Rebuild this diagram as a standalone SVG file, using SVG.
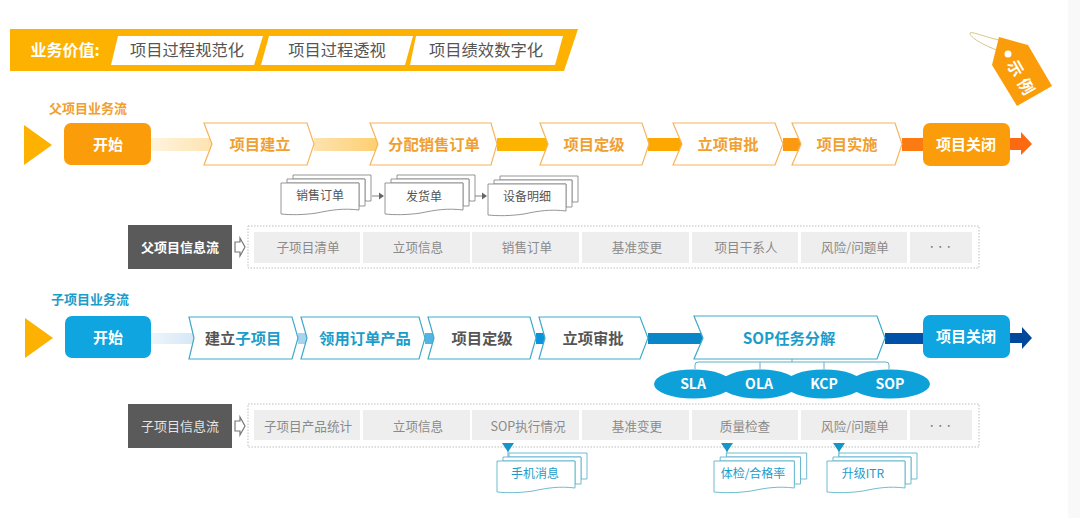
<svg xmlns="http://www.w3.org/2000/svg" width="1080" height="518" viewBox="0 0 1080 518">
<style>
text{font-family:"Noto Sans CJK SC","Noto Sans",sans-serif;text-anchor:middle;dominant-baseline:central}
.val{font-size:16.3px;fill:#555}
.ttl{font-size:16px;font-weight:700;fill:#fff}
.lane{font-size:13px;font-weight:700}
.step{font-size:15.3px;font-weight:700}
.or{fill:#f0a030}.bl{fill:#1c9cc8}.dk{fill:#555}
.wh{font-size:15px;font-weight:700;fill:#fff}
.chevO{fill:#fff;stroke:#f6b45a;stroke-width:1.2}
.chevB{fill:#fff;stroke:#3fa9c9;stroke-width:1.2}
.startO{fill:#fb9d0a}.startB{fill:#0ea5e0}
.mark{fill:#fdb100}
.sheetG{fill:#fff;stroke:#8a8a8a;stroke-width:.9}
.sheetB{fill:#fff;stroke:#5fb4cc;stroke-width:.9}
.docT{font-size:12px;fill:#555}
.docU{font-size:12px;fill:#1c9cc8}
.band{fill:#5a5a5a}
.bandT{font-size:13px;fill:#fff}
.box{fill:#fff;stroke:#bdbdbd;stroke-width:1;stroke-dasharray:1.5 1.5}
.cell{fill:#eeeeee}
.cellT{font-size:12.6px;fill:#8a8a8a}
.dots{font-size:7px;font-weight:700;fill:#777;letter-spacing:1.5px}
.open{fill:#fff;stroke:#777;stroke-width:1.2}
.pin{fill:#1496c8}
.oval{fill:#0ea0d8}
.ovalT{font-size:14px;font-weight:700;fill:#fff}
.link{fill:none;stroke:#5fb0c8;stroke-width:1}
</style>
<defs>
<linearGradient id="fadeO1"><stop offset="0" stop-color="#fff4df"/><stop offset="1" stop-color="#fde3b0"/></linearGradient>
<linearGradient id="fadeO2"><stop offset="0" stop-color="#fde3b0"/><stop offset="1" stop-color="#fdcf70"/></linearGradient>
<linearGradient id="fadeB1"><stop offset="0" stop-color="#edf5fb"/><stop offset="1" stop-color="#d5e8f6"/></linearGradient>
<g id="paper">
<path d="M12 -8H90V18H84V-4H12Z"/>
<path d="M6 -4H84V23H78V0H6Z"/>
<path d="M0 0H78V27C62 25 50 27 36 30C22 32 10 32 0 31Z"/>
</g>
<path id="tri" d="M0 0L28 20L0 40Z"/>
<path id="openArrow" d="M0 4H5V0L10 9L5 18V14H0Z"/>
</defs>

<rect x="1068" width="12" height="518" fill="#f9f9f9"/>

<g id="value-banner">
<path d="M10 29H578L564 71H10Z" fill="#fdb100"/>
<text class="ttl" x="65" y="49">业务价值:</text>
<path d="M118 36H263L254 65H111Z" fill="#fff"/>
<text class="val" x="187" y="49">项目过程规范化</text>
<path d="M269 36H413L405 65H261Z" fill="#fff"/>
<text class="val" x="337" y="49">项目过程透视</text>
<path d="M416 36H563L555 65H410Z" fill="#fff"/>
<text class="val" x="486" y="49">项目绩效数字化</text>
</g>

<g id="sample-tag">
<path d="M999 40C985 37 971 31 970 33C969 37 985 46 997 50" fill="none" stroke="#d8c48a" stroke-width="1"/>
<path d="M999 37L1028 45L1052 86L1017 106L992 65Z" fill="#fb9d0a"/>
<circle cx="1008" cy="54" r="3.5" fill="#fff"/>
<text x="1023" y="79" transform="rotate(60 1023 79)" font-size="16" font-weight="700" fill="#fff" letter-spacing="5">示例</text>
</g>

<text class="lane or" x="88" y="107">父项目业务流</text>
<text class="lane bl" x="90" y="298">子项目业务流</text>

<g id="connectors">
<!-- parent flow bar -->
<rect x="151" y="138" width="61" height="13" fill="url(#fadeO1)"/>
<rect x="314" y="138" width="64" height="13" fill="url(#fadeO2)"/>
<rect x="497" y="138" width="51" height="13" fill="#fdb400"/>
<rect x="648" y="138" width="34" height="13" fill="#fca800"/>
<rect x="783" y="138" width="18" height="13" fill="#fb9a10"/>
<rect x="902" y="138" width="21" height="13" fill="#fb7a12"/>
<path d="M1009 138H1021V132L1032 144L1021 155V150H1009Z" fill="#fb6a10"/>
<!-- child flow bar -->
<rect x="151" y="333" width="43" height="11" fill="url(#fadeB1)"/>
<rect x="298" y="333" width="9" height="11" fill="#a8d4ee"/>
<rect x="425" y="333" width="9" height="11" fill="#52b4e4"/>
<rect x="536" y="333" width="9" height="11" fill="#0a94dc"/>
<rect x="648" y="333" width="55" height="11" fill="#0a86c8"/>
<rect x="885" y="333" width="38" height="11" fill="#0050a8"/>
<path d="M1010 333H1022V327L1032 338L1022 349V343H1010Z" fill="#00489c"/>
<!-- document hand-offs -->
<path d="M372 196H379" stroke="#999" stroke-width="1.2"/><path d="M379 192.5L384 196L379 199.5Z" fill="#666"/>
<path d="M475 196H482" stroke="#999" stroke-width="1.2"/><path d="M482 192.5L487 196L482 199.5Z" fill="#666"/>
<!-- SOP breakdown -->
<path class="link" d="M792 359V362M695 369V365Q695 362 698 362H886Q889 362 889 365V369M760 362V369M824 362V369"/>
<!-- info callouts -->
<path class="link" d="M508 450V457M727 450V457M839 450V457"/>
</g>

<g id="parent-flow">
<g id="p-mark"><use href="#tri" x="24" y="125" class="mark"/></g>
<g id="p-start"><rect class="startO" x="64" y="123" width="87" height="42" rx="7"/><text class="wh" x="108" y="143">开始</text></g>
<g id="p-setup"><path class="chevO" d="M204 123H307L314 144L307 165H204L212 144Z"/><text class="step or" x="260" y="143">项目建立</text></g>
<g id="p-order"><path class="chevO" d="M370 123H491L497 144L491 165H370L378 144Z"/><text class="step or" x="434" y="143">分配销售订单</text></g>
<g id="p-grade"><path class="chevO" d="M540 123H642L649 144L642 165H540L548 144Z"/><text class="step or" x="594" y="143">项目定级</text></g>
<g id="p-approve"><path class="chevO" d="M673 123H775L783 144L775 165H673L682 144Z"/><text class="step or" x="728" y="143">立项审批</text></g>
<g id="p-run"><path class="chevO" d="M792 123H895L902 144L895 165H792L801 144Z"/><text class="step or" x="847" y="143">项目实施</text></g>
<g id="p-close"><rect class="startO" x="923" y="123" width="87" height="43" rx="7"/><text class="wh" x="966" y="143">项目关闭</text></g>
</g>

<g id="parent-docs">
<g id="doc-sales"><use href="#paper" x="281" y="183" class="sheetG"/><text class="docT" x="320" y="194">销售订单</text></g>
<g id="doc-ship"><use href="#paper" x="385" y="183" class="sheetG"/><text class="docT" x="424" y="195">发货单</text></g>
<g id="doc-equip"><use href="#paper" x="488" y="184" class="sheetG"/><text class="docT" x="527" y="195">设备明细</text></g>
</g>

<g id="parent-info">
<g id="p-band"><rect class="band" x="128" y="225" width="104" height="44"/><text class="bandT" x="180" y="246" font-weight="700">父项目信息流</text></g>
<use href="#openArrow" x="235" y="238" class="open"/>
<rect class="box" x="248" y="226" width="731" height="42"/>
<g id="p-i1"><rect class="cell" x="254" y="232" width="106" height="31"/><text class="cellT" x="308" y="246">子项目清单</text></g>
<g id="p-i2"><rect class="cell" x="363" y="232" width="107" height="31"/><text class="cellT" x="418" y="246">立项信息</text></g>
<g id="p-i3"><rect class="cell" x="472" y="232" width="107" height="31"/><text class="cellT" x="527" y="246">销售订单</text></g>
<g id="p-i4"><rect class="cell" x="582" y="232" width="107" height="31"/><text class="cellT" x="637" y="246">基准变更</text></g>
<g id="p-i5"><rect class="cell" x="692" y="232" width="106" height="31"/><text class="cellT" x="746" y="246">项目干系人</text></g>
<g id="p-i6"><rect class="cell" x="801" y="232" width="106" height="31"/><text class="cellT" x="855" y="246">风险/问题单</text></g>
<g id="p-i7"><rect class="cell" x="910" y="232" width="62" height="31"/><text class="dots" x="941" y="246">•••</text></g>
</g>

<g id="child-flow">
<g id="c-mark"><use href="#tri" x="25" y="318" class="mark"/></g>
<g id="c-start"><rect class="startB" x="65" y="316" width="86" height="42" rx="7"/><text class="wh" x="108" y="336">开始</text></g>
<g id="c-create"><path class="chevB" d="M189 317H292L298 338L292 359H189L194 338Z"/><text class="step" x="243" y="337"><tspan class="dk">建立</tspan><tspan class="bl">子项目</tspan></text></g>
<g id="c-claim"><path class="chevB" d="M301 317H419L425 338L419 359H301L307 338Z"/><text class="step bl" x="365" y="337">领用订单产品</text></g>
<g id="c-grade"><path class="chevB" d="M428 317H530L536 338L530 359H428L434 338Z"/><text class="step dk" x="482" y="337">项目定级</text></g>
<g id="c-approve"><path class="chevB" d="M539 317H640L648 338L640 359H539L545 338Z"/><text class="step dk" x="593" y="337">立项审批</text></g>
<g id="c-sop"><path class="chevB" d="M694 316H877L885 338L877 359H694L703 338Z"/><text class="step bl" x="789" y="337">SOP任务分解</text></g>
<g id="c-close"><rect class="startB" x="923" y="315" width="87" height="43" rx="7"/><text class="wh" x="966" y="335">项目关闭</text></g>
</g>

<g id="sop-items">
<g id="s-sla"><ellipse class="oval" cx="693" cy="384" rx="39" ry="14.5"/><text class="ovalT" x="693" y="383">SLA</text></g>
<g id="s-ola"><ellipse class="oval" cx="759" cy="384" rx="39" ry="14.5"/><text class="ovalT" x="759" y="383">OLA</text></g>
<g id="s-kcp"><ellipse class="oval" cx="824" cy="384" rx="39" ry="14.5"/><text class="ovalT" x="824" y="383">KCP</text></g>
<g id="s-sop"><ellipse class="oval" cx="890" cy="384" rx="40" ry="14.5"/><text class="ovalT" x="890" y="383">SOP</text></g>
</g>

<g id="child-info">
<g id="c-band"><rect class="band" x="128" y="404" width="104" height="44"/><text class="bandT" x="180" y="425" fill-opacity=".85">子项目信息流</text></g>
<use href="#openArrow" x="235" y="417" class="open"/>
<rect class="box" x="248" y="404" width="731" height="43"/>
<g id="c-i1"><rect class="cell" x="254" y="410" width="106" height="30"/><text class="cellT" x="308" y="425">子项目产品统计</text></g>
<g id="c-i2"><rect class="cell" x="363" y="410" width="107" height="30"/><text class="cellT" x="418" y="425">立项信息</text></g>
<g id="c-i3"><rect class="cell" x="472" y="410" width="107" height="30"/><text class="cellT" x="528" y="425">SOP执行情况</text></g>
<g id="c-i4"><rect class="cell" x="582" y="410" width="107" height="30"/><text class="cellT" x="637" y="425">基准变更</text></g>
<g id="c-i5"><rect class="cell" x="692" y="410" width="106" height="30"/><text class="cellT" x="745" y="425">质量检查</text></g>
<g id="c-i6"><rect class="cell" x="801" y="410" width="106" height="30"/><text class="cellT" x="855" y="425">风险/问题单</text></g>
<g id="c-i7"><rect class="cell" x="910" y="410" width="62" height="30"/><text class="dots" x="941" y="425">•••</text></g>
</g>

<g id="callouts">
<path class="pin" d="M502 443H514L508 452Z"/>
<path class="pin" d="M721 443H733L727 452Z"/>
<path class="pin" d="M833 443H845L839 452Z"/>
<g id="doc-msg"><use href="#paper" x="497" y="461" class="sheetB"/><text class="docU" x="535" y="472">手机消息</text></g>
<g id="doc-check"><use href="#paper" transform="translate(714 461) scale(1.03 1)" class="sheetB"/><text class="docU" x="753" y="472">体检/合格率</text></g>
<g id="doc-itr"><use href="#paper" x="827" y="461" class="sheetB"/><text class="docU" x="863" y="472">升级ITR</text></g>
</g>
</svg>
